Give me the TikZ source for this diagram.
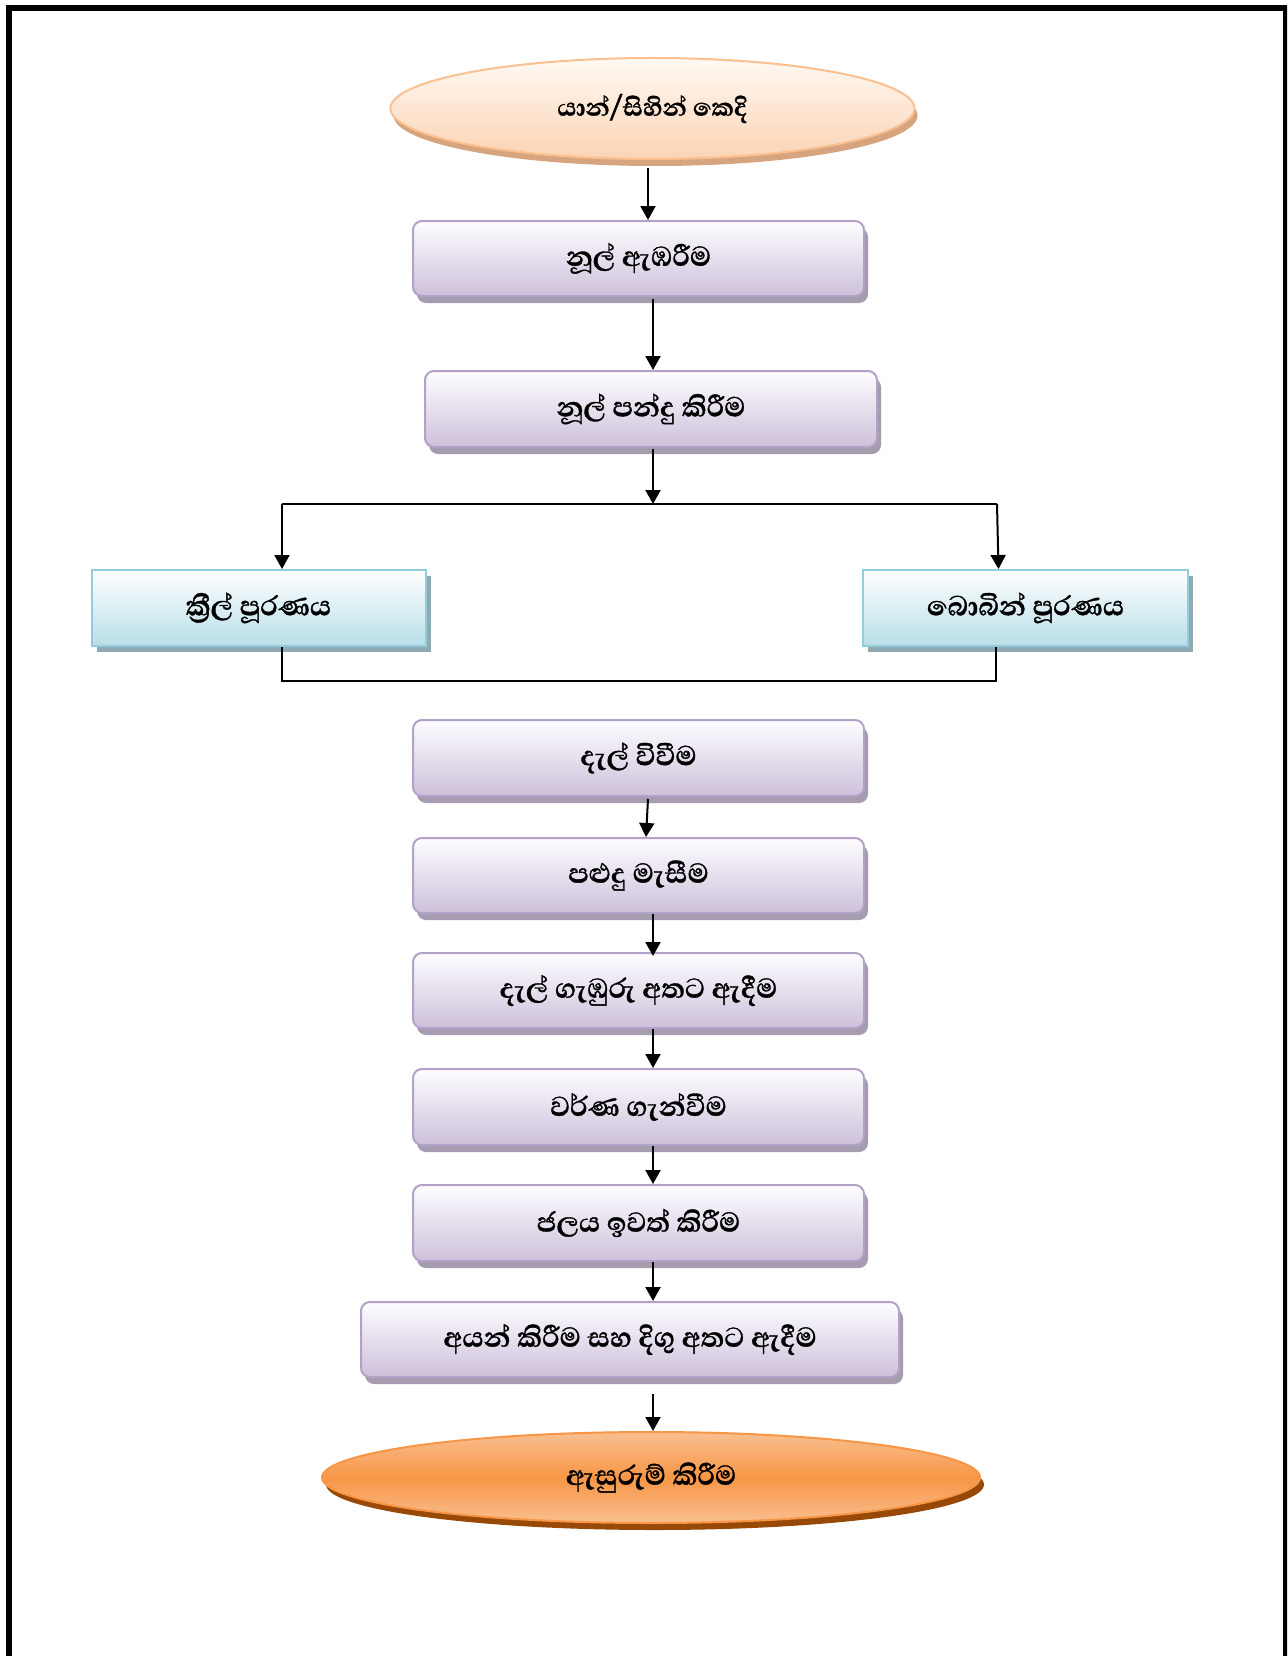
\documentclass[tikz,border=0pt]{standalone}
\usepackage{fontspec}
\usetikzlibrary{shapes.geometric,arrows.meta,shadows}
\newfontfamily\sinhalafont[Script=Sinhala,BoldFeatures={FakeBold=1}]{Abhaya Libre}
\definecolor{pTop}{HTML}{FEFDFF}
\definecolor{pBot}{HTML}{CDC1DB}
\definecolor{pBorder}{HTML}{B3A2C7}
\definecolor{pShadow}{HTML}{A59CB0}
\definecolor{bBot}{HTML}{B8DEE8}
\definecolor{bBorder}{HTML}{93CDDD}
\definecolor{bShadow}{HTML}{8FAAB2}
\definecolor{eTop}{HTML}{FFF9F4}
\definecolor{eBot}{HTML}{FBD3B3}
\definecolor{eBorder}{HTML}{FAC090}
\definecolor{eShadow}{HTML}{D6A47F}
\definecolor{oEdge}{HTML}{F9BF90}
\definecolor{oMid}{HTML}{F79646}
\definecolor{oShadow}{HTML}{984807}
\begin{document}
\begin{tikzpicture}[x=1pt,y=-1pt,
  arr/.style={line width=2pt,-{Triangle[width=15pt,length=14pt]}},
  conn/.style={line width=2pt},
  thin conn/.style={line width=1.5pt},
  txt/.style={font=\sinhalafont\bfseries\fontsize{35}{40}\selectfont, text=black, inner sep=0pt},
  pbox/.style={txt, rectangle, rounded corners=9pt, draw=pBorder, line width=2pt,
    top color=pTop, bottom color=pBot, minimum width=451pt, minimum height=75pt,
    drop shadow={shadow xshift=4pt, shadow yshift=-7pt, fill=pShadow, opacity=1}},
  bbox/.style={txt, rectangle, draw=bBorder, line width=2pt, top color=white,
    bottom color=bBot, minimum height=76pt,
    drop shadow={shadow xshift=5pt, shadow yshift=-6pt, fill=bShadow, opacity=1}},
  ellA/.style={txt, font=\sinhalafont\bfseries\fontsize{31.5}{36}\selectfont,
    ellipse, draw=eBorder, line width=2pt, top color=eTop,
    bottom color=eBot, minimum width=524pt, minimum height=101pt,
    drop shadow={shadow xshift=3pt, shadow yshift=-7pt, fill=eShadow, opacity=1}},
  ellB/.style={txt, ellipse, draw=oMid, line width=2pt, top color=oEdge,
    bottom color=oEdge, middle color=oMid, minimum width=658pt, minimum height=91pt,
    drop shadow={shadow xshift=4pt, shadow yshift=-7pt, fill=oShadow, opacity=1}}
]
\useasboundingbox (0,0) rectangle (1287,1656);
\clip (0,0) rectangle (1287,1656);
\fill[white] (0,0) rectangle (1287,1656);
\draw[line width=6pt] (9,1700) -- (9,8) -- (1286,8) -- (1286,1700);

\node[ellA] (e1) at (652.5,108.5) {\raisebox{6pt}{යාන්/සිහින් කෙදි}};
\node[pbox] (b1) at (638.5,258.5) {නූල් ඇඹරීම};
\node[pbox, minimum width=452pt, minimum height=76pt] (b2) at (651,409) {නූල් පන්දු කිරීම};
\node[bbox, minimum width=334pt] (L) at (258.5,608) {\raisebox{8pt}{ක්^^^^200dරීල් පූරණය}};
\node[bbox, minimum width=325pt] (R) at (1025.5,608) {\raisebox{8pt}{බොබින් පූරණය}};
\node[pbox, minimum height=76pt] (b3) at (638.5,758) {දැල් විවීම};
\node[pbox] (b4) at (638.5,875.5) {පළුදු මැසීම};
\node[pbox] (b5) at (638.5,990.5) {දැල් ගැඹුරු අතට ඇදීම};
\node[pbox, minimum height=76pt] (b6) at (638.5,1107) {වර්ණ ගැන්වීම};
\node[pbox, minimum height=76pt] (b7) at (638.5,1223) {ජලය ඉවත් කිරීම};
\node[pbox, minimum width=538pt] (b8) at (630,1339.5) {අයන් කිරීම සහ දිගු අතට ඇදීම};
\node[ellB] (e2) at (651,1477.5) {ඇසුරුම් කිරීම};

\coordinate (jl) at (282,504);
\coordinate (jr) at (997,504);
\coordinate (kl) at (282,681);
\coordinate (kr) at (996,681);

\draw[arr] ([xshift=-4.5pt,yshift=-8.5pt]e1.south) -- ([xshift=9.5pt]b1.north);
\draw[arr] ([xshift=14.5pt,yshift=-2pt]b1.south) -- ([xshift=2pt]b2.north);
\draw[arr] ([xshift=2pt,yshift=-1pt]b2.south) -- ([xshift=2pt]b2.south |- jl);
\draw[conn] (jl) -- (jr);
\draw[arr] (jl) -- (jl |- L.north);
\draw[arr] (jr) -- ([xshift=-27pt]R.north);
\draw[thin conn] (L.south -| kl) -- (kl) -- (kr) -- (R.south -| kr);
\draw[arr] ([xshift=9.5pt,yshift=-2pt]b3.south) -- ([xshift=7.5pt]b4.north);
\draw[arr] ([xshift=14.5pt]b4.south) -- ([xshift=14.5pt,yshift=-4pt]b5.north);
\draw[arr] ([xshift=14.5pt]b5.south) -- ([xshift=14.5pt]b6.north);
\draw[arr] ([xshift=14.5pt]b6.south) -- ([xshift=14.5pt]b7.north);
\draw[arr] ([xshift=14.5pt]b7.south) -- ([xshift=23pt]b8.north);
\draw[arr] ([xshift=23pt,yshift=-15.5pt]b8.south) -- ([xshift=2pt]e2.north);
\end{tikzpicture}
\end{document}
